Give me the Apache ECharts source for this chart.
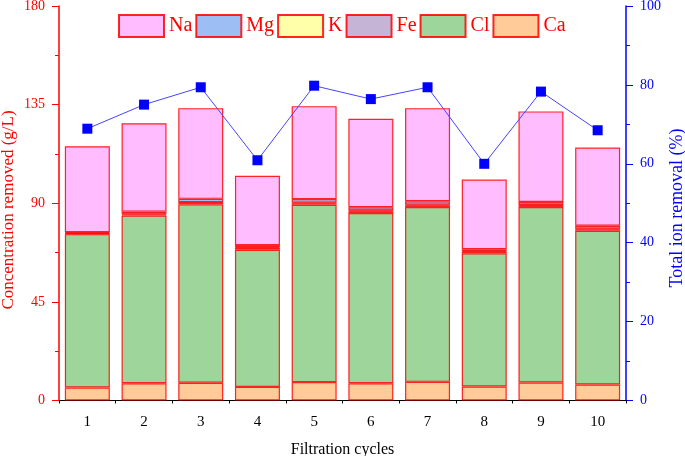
<!DOCTYPE html>
<html>
<head>
<meta charset="utf-8">
<script src="https://cdn.jsdelivr.net/npm/echarts@6/dist/echarts.min.js"></script>
<style>
  html, body { margin: 0; padding: 0; background: #fff; }
  #chart { width: 685px; height: 456px; }
</style>
</head>
<body>
<div id="chart"></div>
<script>
// filtration cycles
const cycles = ['1', '2', '3', '4', '5', '6', '7', '8', '9', '10'];

// concentration removed per ion (g/L)
const caData = [5.9, 7.9, 8.1, 6.2, 8.4, 7.9, 8.5, 6.4, 8.2, 7.3];
const clData = [70.0, 76.5, 81.4, 62.6, 80.9, 77.6, 79.8, 60.8, 80.1, 70.1];
const feData = [0.3, 0.5, 0.7, 0.8, 0.7, 0.9, 0.7, 0.6, 0.6, 0.7];
const kData = [0.2, 0.3, 0.3, 0.3, 0.3, 0.3, 0.3, 0.3, 0.3, 0.3];
const mgData = [0.4, 1.0, 1.5, 1.0, 1.6, 1.5, 1.6, 0.9, 1.4, 1.3];
const naData = [39.2, 40.3, 41.4, 31.6, 42.4, 40.3, 42.5, 31.8, 41.3, 35.7];

// total ion removal (%)
const totalRemoval = [68.9, 75.0, 79.4, 60.9, 79.8, 76.4, 79.4, 60.0, 78.3, 68.5];

const legendOrder = ['Na', 'Mg', 'K', 'Fe', 'Cl', 'Ca'];
const leftTicks = { min: 0, max: 180, interval: 45 };
const rightTicks = { min: 0, max: 100, interval: 20 };

const serif = '"Liberation Serif", "DejaVu Serif", serif';

const barSeries = (name, data, color) => ({
  name: name,
  type: 'bar',
  stack: 'ions',
  barWidth: 45,
  data: data,
  itemStyle: {
    color: color,
    borderColor: 'rgba(255,0,0,0.85)',
    borderWidth: 1.2
  }
});

const myChart = echarts.init(document.getElementById('chart'));

const option = {
  animation: false,
  textStyle: { fontFamily: serif },
  grid: { left: 59, right: 59, top: 6, bottom: 55.5, containLabel: false, outerBoundsMode: 'none' },
  legend: {
    data: legendOrder,
    icon: 'rect',
    left: 113,
    top: 9,
    itemWidth: 45,
    itemHeight: 22,
    itemGap: 3,
    textStyle: { color: '#ff0000', fontSize: 20, fontFamily: serif }
  },
  // rotated axis titles, placed like the original (slightly below the axis middle)
  graphic: [
    {
      type: 'text',
      x: 9,
      y: 210,
      rotation: Math.PI / 2,
      style: {
        text: 'Concentration removed (g/L)',
        fill: '#ff0000',
        font: '17px ' + serif,
        align: 'center',
        verticalAlign: 'middle'
      }
    },
    {
      type: 'text',
      x: 677,
      y: 208,
      rotation: Math.PI / 2,
      style: {
        text: 'Total ion removal (%)',
        fill: '#0000ff',
        font: '18px ' + serif,
        align: 'center',
        verticalAlign: 'middle'
      }
    }
  ],
  xAxis: [
    {
      type: 'category',
      data: cycles,
      name: 'Filtration cycles',
      nameLocation: 'middle',
      nameGap: 41,
      nameTextStyle: { color: '#000', fontSize: 16, fontFamily: serif },
      axisLine: { lineStyle: { color: '#000', width: 1 } },
      axisTick: { alignWithLabel: true, length: 6, lineStyle: { color: '#000' } },
      axisLabel: { color: '#000', fontSize: 15, margin: 14, fontFamily: serif }
    },
    {
      type: 'category',
      data: cycles,
      position: 'bottom',
      axisLine: { show: false },
      axisTick: { show: true, length: 3, lineStyle: { color: '#000' } },
      axisLabel: { show: false }
    }
  ],
  yAxis: [
    {
      type: 'value',
      min: leftTicks.min,
      max: leftTicks.max,
      interval: leftTicks.interval,
      axisLine: { show: true, lineStyle: { color: '#ff0000', width: 1.5 } },
      axisTick: { show: true, length: 7, lineStyle: { color: '#ff0000' } },
      minorTick: { show: true, splitNumber: 2, length: 4, lineStyle: { color: '#ff0000' } },
      splitLine: { show: false },
      axisLabel: { color: '#ff0000', fontSize: 14, margin: 14, fontFamily: serif }
    },
    {
      type: 'value',
      min: rightTicks.min,
      max: rightTicks.max,
      interval: rightTicks.interval,
      position: 'right',
      axisLine: { show: true, lineStyle: { color: '#0000ff', width: 1.5 } },
      axisTick: { show: true, length: 7, lineStyle: { color: '#0000ff' } },
      minorTick: { show: true, splitNumber: 2, length: 4, lineStyle: { color: '#0000ff' } },
      splitLine: { show: false },
      axisLabel: { color: '#0000ff', fontSize: 14, margin: 14, fontFamily: serif }
    }
  ],
  series: [
    barSeries('Ca', caData, '#ffcc99'),
    barSeries('Cl', clData, '#9ed59a'),
    barSeries('Fe', feData, '#c6b4d6'),
    barSeries('K', kData, '#ffffaa'),
    barSeries('Mg', mgData, '#9dbdf5'),
    barSeries('Na', naData, '#ffbdff'),
    {
      name: 'Total ion removal',
      type: 'line',
      yAxisIndex: 1,
      data: totalRemoval,
      symbol: 'rect',
      symbolSize: 10,
      itemStyle: { color: '#0000ff' },
      lineStyle: { color: '#4444ff', width: 1 },
      z: 5
    }
  ]
};
option && myChart.setOption(option);
</script>
</body>
</html>
